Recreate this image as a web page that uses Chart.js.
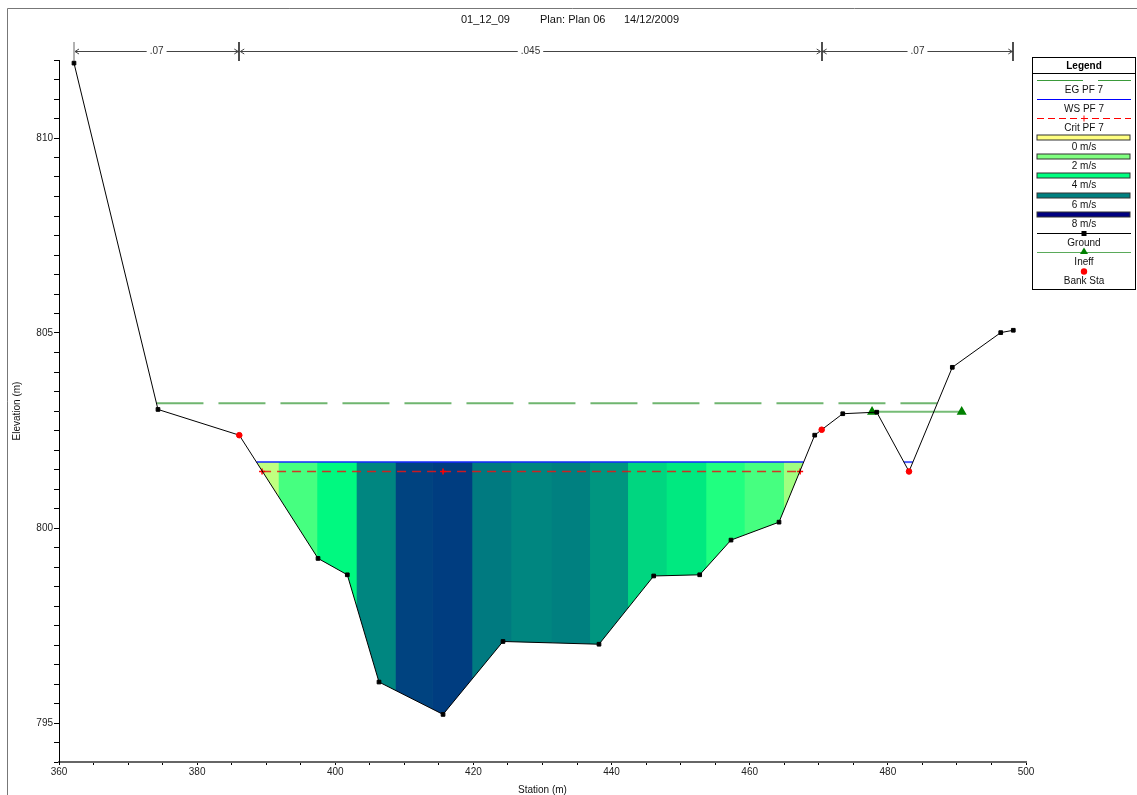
<!DOCTYPE html>
<html>
<head>
<meta charset="utf-8">
<title>01_12_09 Plan 06</title>
<script src="https://cdn.jsdelivr.net/npm/chart.js@4.4.1/dist/chart.umd.min.js"></script>
<style>
  html, body { margin: 0; padding: 0; background: #fff; }
  canvas { display: block; }
</style>
</head>
<body>
<canvas id="xsChart" width="1137" height="795"></canvas>
<script>
// cross section ground profile (station m, elevation m)
const groundStation = [362.17, 374.33, 386.10, 397.50, 401.74, 406.33, 415.60, 424.28, 438.18, 446.10,
                       452.76, 457.29, 464.24, 469.41, 470.42, 473.47, 478.39, 483.06, 489.33, 496.34, 498.16];
const groundElev = [811.92, 803.04, 802.38, 799.22, 798.80, 796.05, 795.22, 797.09, 797.02, 798.77,
                    798.80, 799.69, 800.15, 802.38, 802.52, 802.93, 802.97, 801.45, 804.12, 805.01, 805.07];

const bankStation = [386.10, 470.42, 483.06];
const bankElev = [802.38, 802.52, 801.45];

const ineffStation = [477.71, 490.69];
const ineffElev = [802.98, 802.98];

// profile PF 7
const egElev = 803.20;
const egStation = [374.11, 487.10];
const wsElev = 801.69;
const wsStation = [388.59, 467.81];
const wsNotchStation = [482.32, 483.62];
const critElev = 801.45;
const critStation = [389.4, 415.6, 467.3];

// velocity distribution slices
const sliceEdges = [388.70, 391.71, 397.31, 403.00, 408.65, 414.01, 419.75, 425.40, 431.23,
                    436.78, 442.28, 447.88, 453.63, 459.17, 464.86, 467.76];
const sliceVel = [1.0, 2.9, 4.1, 5.9, 6.95, 7.05, 6.1, 5.9, 6.0, 5.65, 4.65, 4.35, 3.5, 2.9, 1.5];
const velTicks = [0, 2, 4, 6, 8];

// Manning's n
const nBreaks = [362.17, 386.10, 470.42, 498.16];
const nValues = [0.07, 0.045, 0.07];

const FONT = "'Liberation Sans', Arial, sans-serif";
const rampColors = [[255, 255, 128], [128, 255, 128], [0, 255, 128], [0, 128, 128], [0, 0, 128]];

function velColor(v) {
  let i = 0;
  while (i < velTicks.length - 2 && v > velTicks[i + 1]) i++;
  const f = Math.max(0, Math.min(1, (v - velTicks[i]) / (velTicks[i + 1] - velTicks[i])));
  const a = rampColors[i], b = rampColors[i + 1];
  const c = a.map((ch, k) => Math.round(ch + (b[k] - ch) * f));
  return `rgb(${c[0]},${c[1]},${c[2]})`;
}

const pts = (xs, ys) => xs.map((x, i) => ({ x, y: Array.isArray(ys) ? ys[i] : ys }));

const GROUND_INDEX = 1;
const EG_COLOR = 'rgba(50,150,50,0.7)';
const WS_COLOR = 'rgba(20,40,255,0.75)';
const CRIT_COLOR = 'rgba(235,20,20,0.85)';
const INEFF_COLOR = 'rgba(60,160,60,0.7)';

const datasets = [
  { label: 'Bank Sta', data: pts(bankStation, bankElev), showLine: false,
    pointStyle: 'circle', pointRadius: 2.8, pointBackgroundColor: '#ff0000', pointBorderColor: '#ff0000' },
  { label: 'Ground', data: pts(groundStation, groundElev), showLine: true,
    borderColor: '#000', borderWidth: 1, pointStyle: 'rect', pointRadius: 2.6,
    pointBackgroundColor: '#000', pointBorderColor: '#000', pointBorderWidth: 1 },
  { label: 'Ineff', data: pts(ineffStation, ineffElev), showLine: true,
    borderColor: INEFF_COLOR, borderWidth: 2, pointStyle: 'triangle', pointRadius: 3.8,
    pointBackgroundColor: '#008000', pointBorderColor: '#008000' },
  { label: 'EG PF 7', data: pts(egStation, egElev), showLine: true,
    borderColor: EG_COLOR, borderWidth: 2, borderDash: [47, 15], pointRadius: 0 },
  { label: 'Crit PF 7', data: pts(critStation, critElev), showLine: true,
    borderColor: CRIT_COLOR, borderWidth: 1.5, borderDash: [9, 6],
    pointStyle: 'cross', pointRadius: 3, pointBorderColor: '#ff0000', pointBorderWidth: 1.5 },
  { label: 'WS PF 7', data: pts(wsStation, wsElev), showLine: true,
    borderColor: WS_COLOR, borderWidth: 2, pointRadius: 0 },
  { label: 'WS PF 7 notch', data: pts(wsNotchStation, wsElev), showLine: true,
    borderColor: WS_COLOR, borderWidth: 2, pointRadius: 0 }
];

// each slice is filled from the water surface down to the ground line;
// a small overlap on the right hides the anti-aliased seam to the next slice
const SEAM_OVERLAP = 0.12;
sliceVel.forEach((v, i) => {
  const right = sliceEdges[i + 1] + (i < sliceVel.length - 1 ? SEAM_OVERLAP : 0);
  datasets.push({
    label: 'slice ' + i,
    data: pts([sliceEdges[i], right], wsElev),
    showLine: true,
    borderColor: 'transparent',
    borderWidth: 1,
    pointRadius: 0,
    backgroundColor: velColor(v),
    fill: GROUND_INDEX
  });
});

function drawLegend(ctx) {
  const L = 1032.5, R = 1135.5, T = 57.5, B = 289.5;
  const cx = (L + R) / 2, s0 = 1037, s1 = 1131;
  ctx.fillStyle = '#fff';
  ctx.fillRect(L, T, R - L, B - T);
  ctx.strokeStyle = '#000';
  ctx.lineWidth = 1;
  ctx.strokeRect(L, T, R - L, B - T);
  ctx.beginPath();
  ctx.moveTo(L, 73.5);
  ctx.lineTo(R, 73.5);
  ctx.stroke();

  ctx.textAlign = 'center';
  ctx.textBaseline = 'middle';
  ctx.fillStyle = '#000';
  ctx.font = 'bold 10px ' + FONT;
  ctx.fillText('Legend', cx, 66);

  const rows = ['EG PF 7', 'WS PF 7', 'Crit PF 7']
    .concat(velTicks.map(v => v + ' m/s'))
    .concat(['Ground', 'Ineff', 'Bank Sta']);

  rows.forEach((label, i) => {
    const y = Math.round(79.5 + i * 19.17) + 0.5;
    ctx.save();
    if (label === 'EG PF 7') {
      ctx.strokeStyle = '#3a9a3a';
      ctx.beginPath();
      ctx.moveTo(s0, y); ctx.lineTo(1083, y);
      ctx.moveTo(1098, y); ctx.lineTo(s1, y);
      ctx.stroke();
    } else if (label === 'WS PF 7') {
      ctx.strokeStyle = '#0000ff';
      ctx.beginPath(); ctx.moveTo(s0, y); ctx.lineTo(s1, y); ctx.stroke();
    } else if (label === 'Crit PF 7') {
      ctx.strokeStyle = '#ff0000';
      ctx.setLineDash([7, 4]);
      ctx.beginPath(); ctx.moveTo(s0, y); ctx.lineTo(s1, y); ctx.stroke();
      ctx.setLineDash([]);
      ctx.beginPath(); ctx.moveTo(cx, y - 3); ctx.lineTo(cx, y + 3); ctx.stroke();
    } else if (label.endsWith('m/s')) {
      ctx.fillStyle = velColor(velTicks[i - 3]);
      ctx.fillRect(s0, y - 2.5, s1 - s0 - 1, 5);
      ctx.strokeStyle = '#333';
      ctx.strokeRect(s0, y - 2.5, s1 - s0 - 1, 5);
    } else if (label === 'Ground') {
      ctx.strokeStyle = '#000';
      ctx.beginPath(); ctx.moveTo(s0, y); ctx.lineTo(s1, y); ctx.stroke();
      ctx.fillStyle = '#000';
      ctx.fillRect(cx - 2.5, y - 2.5, 5, 5);
    } else if (label === 'Ineff') {
      ctx.strokeStyle = '#5aaa5a';
      ctx.beginPath(); ctx.moveTo(s0, y); ctx.lineTo(s1, y); ctx.stroke();
      ctx.fillStyle = '#008000';
      ctx.beginPath();
      ctx.moveTo(cx, y - 5); ctx.lineTo(cx + 4, y + 1.5); ctx.lineTo(cx - 4, y + 1.5);
      ctx.closePath(); ctx.fill();
    } else if (label === 'Bank Sta') {
      ctx.fillStyle = '#ff0000';
      ctx.beginPath(); ctx.arc(cx, y, 3.2, 0, Math.PI * 2); ctx.fill();
    }
    ctx.restore();
    ctx.font = '10px ' + FONT;
    ctx.fillStyle = '#111';
    ctx.fillText(label, cx, y + 9.5);
  });
}

function drawRoughness(ctx, xScale) {
  const yN = 51.5;
  ctx.font = '10px ' + FONT;
  ctx.textAlign = 'center';
  ctx.textBaseline = 'middle';
  ctx.strokeStyle = '#444';
  ctx.lineWidth = 1;
  nValues.forEach((n, i) => {
    const x0 = xScale.getPixelForValue(nBreaks[i]);
    const x1 = xScale.getPixelForValue(nBreaks[i + 1]);
    const label = String(n).replace(/^0/, '');
    const mid = (x0 + x1) / 2;
    const half = ctx.measureText(label).width / 2 + 3;
    ctx.beginPath();
    ctx.moveTo(x0 + 1, yN); ctx.lineTo(mid - half, yN);
    ctx.moveTo(mid + half, yN); ctx.lineTo(x1 - 1, yN);
    // arrow heads
    ctx.moveTo(x0 + 5, yN - 2.5); ctx.lineTo(x0 + 1, yN); ctx.lineTo(x0 + 5, yN + 2.5);
    ctx.moveTo(x1 - 5, yN - 2.5); ctx.lineTo(x1 - 1, yN); ctx.lineTo(x1 - 5, yN + 2.5);
    ctx.stroke();
    ctx.fillStyle = '#333';
    ctx.fillText(label, mid, yN);
  });
  nBreaks.forEach((b, i) => {
    const px = Math.round(xScale.getPixelForValue(b));
    ctx.lineWidth = (i === 0) ? 1 : 1.6;
    ctx.strokeStyle = (i === 0) ? '#666' : '#222';
    ctx.beginPath();
    ctx.moveTo(px, 42); ctx.lineTo(px, 61);
    ctx.stroke();
  });
}

const decorPlugin = {
  id: 'decor',
  afterDraw(chart) {
    const ctx = chart.ctx;
    ctx.save();
    // outer frame
    ctx.strokeStyle = '#777';
    ctx.lineWidth = 1;
    ctx.beginPath();
    ctx.moveTo(7.5, 795); ctx.lineTo(7.5, 8.5); ctx.lineTo(1137, 8.5);
    ctx.stroke();

    // title
    ctx.fillStyle = '#111';
    ctx.font = '11px ' + FONT;
    ctx.textAlign = 'left';
    ctx.textBaseline = 'middle';
    ctx.fillText('01_12_09', 461, 20);
    ctx.fillText('Plan: Plan 06', 540, 20);
    ctx.fillText('14/12/2009', 624, 20);

    drawRoughness(ctx, chart.scales.x);
    drawLegend(ctx);
    ctx.restore();
  }
};

new Chart(document.getElementById('xsChart').getContext('2d'), {
  type: 'scatter',
  data: { datasets: datasets },
  options: {
    responsive: false,
    animation: false,
    devicePixelRatio: 1,
    layout: { padding: { left: 0, right: 111, top: 60, bottom: 0 } },
    plugins: {
      legend: { display: false },
      tooltip: { enabled: false },
      title: { display: false }
    },
    scales: {
      x: {
        type: 'linear',
        min: 360,
        max: 500,
        afterFit(scale) { scale.height = 33; },
        ticks: {
          stepSize: 5,
          autoSkip: false,
          maxRotation: 0,
          padding: 1,
          color: '#222',
          font: { family: FONT, size: 10 },
          callback: v => (v % 20 === 0 ? v : '')
        },
        grid: { display: true, drawOnChartArea: false, drawTicks: true, tickLength: 3, color: '#000' },
        border: { display: true, color: '#666', width: 2 },
        title: {
          display: true, text: 'Station (m)', color: '#111', padding: 0,
          font: { family: FONT, size: 10, lineHeight: 1 }
        }
      },
      y: {
        type: 'linear',
        min: 794,
        max: 812,
        afterFit(scale) { scale.width = 59; },
        ticks: {
          stepSize: 0.5,
          autoSkip: false,
          padding: 1,
          color: '#222',
          font: { family: FONT, size: 10 },
          callback: v => (Math.abs(v % 5) < 1e-6 ? v : '')
        },
        grid: { display: true, drawOnChartArea: false, drawTicks: true, tickLength: 5, color: '#000' },
        border: { display: true, color: '#000', width: 1 },
        title: {
          display: true, text: 'Elevation (m)', color: '#111', padding: { top: 11 },
          font: { family: FONT, size: 10 }
        }
      }
    }
  },
  plugins: [decorPlugin]
});
</script>
</body>
</html>
